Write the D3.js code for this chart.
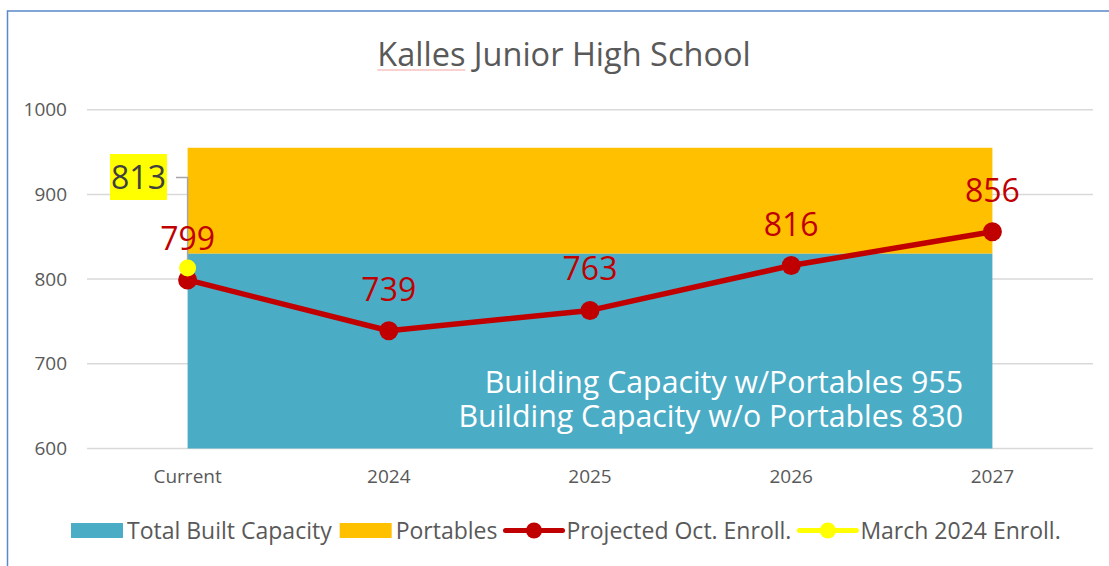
<!DOCTYPE html>
<html>
<head>
<meta charset="utf-8">
<script src="https://cdn.jsdelivr.net/npm/d3@7"></script>
<style>
  body { margin: 0; background: #fff; }
  svg { display: block; font-family: "Open Sans", Lato, sans-serif; }
</style>
</head>
<body>
<svg id="chart" width="1109" height="566"></svg>
<script>
'use strict';

// chart data
var categories = ['Current', '2024', '2025', '2026', '2027'];
var builtCapacity = [830, 830, 830, 830, 830];
var withPortables = [955, 955, 955, 955, 955];
var projected = [799, 739, 763, 816, 856];
var marchEnroll = [{ cat: 'Current', value: 813 }];
var yTicks = [600, 700, 800, 900, 1000];
var titleText = 'Kalles Junior High School';
var noteLines = ['Building Capacity w/Portables 955', 'Building Capacity w/o Portables 830'];
var legendItems = [
    { label: 'Total Built Capacity', type: 'rect', color: '#4BACC6' },
    { label: 'Portables', type: 'rect', color: '#FFC000' },
    { label: 'Projected Oct. Enroll.', type: 'line', color: '#C00000' },
    { label: 'March 2024 Enroll.', type: 'line', color: '#FFFF00' }
];

var svg = d3.select('#chart');
var gray = '#595959';

// outer frame (runs past the picture edge)
svg.append('rect')
    .attr('x', 7.5).attr('y', 11)
    .attr('width', 1200).attr('height', 700)
    .attr('fill', '#fff')
    .attr('stroke', '#5B88C8')
    .attr('stroke-width', 1.5);

var plot = { left: 87, right: 1093, top: 109.7, bottom: 448.5 };

var x = d3.scaleBand()
    .domain(categories)
    .range([plot.left, plot.right]);
var cx = function(c) { return x(c) + x.bandwidth() / 2; };

var y = d3.scaleLinear()
    .domain([600, 1000])
    .range([plot.bottom, plot.top]);

// gridlines
svg.append('g')
    .selectAll('line')
    .data(yTicks)
    .enter().append('line')
    .attr('x1', plot.left).attr('x2', plot.right)
    .attr('y1', function(d) { return y(d); })
    .attr('y2', function(d) { return y(d); })
    .attr('stroke', '#D9D9D9')
    .attr('stroke-width', 1.5);

// y axis labels
var yAxis = d3.axisLeft(y).tickValues(yTicks).tickFormat(d3.format('d'))
    .tickSize(0).tickPadding(0);
var yG = svg.append('g')
    .attr('transform', 'translate(67,0)')
    .call(yAxis);
yG.select('.domain').remove();
yG.selectAll('text')
    .attr('fill', gray)
    .style('font-size', '19px')
    .style('font-family', '"Open Sans", sans-serif');

// stacked areas
var areaBuilt = d3.area()
    .x(function(d, i) { return cx(categories[i]); })
    .y0(y(600))
    .y1(function(d) { return y(d); });
var areaPort = d3.area()
    .x(function(d, i) { return cx(categories[i]); })
    .y0(function(d, i) { return y(builtCapacity[i]); })
    .y1(function(d) { return y(d); });

svg.append('path').datum(withPortables)
    .attr('d', areaPort).attr('fill', '#FFC000');
svg.append('path').datum(builtCapacity)
    .attr('d', areaBuilt).attr('fill', '#4BACC6');

// x axis labels
var xAxis = d3.axisBottom(x).tickSize(0).tickPadding(0);
var xG = svg.append('g')
    .attr('transform', 'translate(0,' + 469.5 + ')')
    .call(xAxis);
xG.select('.domain').remove();
xG.selectAll('text')
    .attr('fill', gray)
    .style('font-size', '19px')
    .style('font-family', '"Open Sans", sans-serif');

// capacity note, one text per line
svg.append('g').selectAll('text')
    .data(noteLines)
    .enter().append('text')
    .attr('x', 963)
    .attr('y', function(d, i) { return 393 + i * 34; })
    .attr('text-anchor', 'end')
    .attr('fill', '#fff')
    .style('font-size', '30.3px')
    .text(function(d) { return d; });

// leader line for March label
var mx = cx(marchEnroll[0].cat);
var my = y(marchEnroll[0].value);
svg.append('path')
    .attr('d', 'M' + mx + ',' + my + 'V177.5H176')
    .attr('fill', 'none')
    .attr('stroke', '#A6A6A6')
    .attr('stroke-width', 1.5);

// projected line
var line = d3.line()
    .x(function(d, i) { return cx(categories[i]); })
    .y(function(d) { return y(d); });
svg.append('path').datum(projected)
    .attr('d', line)
    .attr('fill', 'none')
    .attr('stroke', '#C00000')
    .attr('stroke-width', 5.5)
    .attr('stroke-linejoin', 'round');
svg.append('g').selectAll('circle')
    .data(projected)
    .enter().append('circle')
    .attr('cx', function(d, i) { return cx(categories[i]); })
    .attr('cy', function(d) { return y(d); })
    .attr('r', 9.5)
    .attr('fill', '#C00000');

// projected labels
svg.append('g').selectAll('text')
    .data(projected)
    .enter().append('text')
    .attr('x', function(d, i) { return cx(categories[i]); })
    .attr('y', function(d) { return y(d) - 30; })
    .attr('text-anchor', 'middle')
    .attr('fill', '#C00000')
    .style('font-size', '32px')
    .text(function(d) { return d; });

// March point
svg.append('circle')
    .attr('cx', mx).attr('cy', my)
    .attr('r', 8.5)
    .attr('fill', '#FFFF00');

// March label with yellow box
svg.append('rect')
    .attr('x', 110).attr('y', 154)
    .attr('width', 57).attr('height', 46)
    .attr('fill', '#FFFF00');
svg.append('text')
    .attr('x', 138.5).attr('y', 189)
    .attr('text-anchor', 'middle')
    .attr('fill', '#404040')
    .style('font-size', '32px')
    .text(marchEnroll[0].value);

// title
var title = svg.append('text')
    .attr('x', 564).attr('y', 66)
    .attr('text-anchor', 'middle')
    .attr('fill', gray)
    .style('font-size', '32.5px')
    .text(titleText);

// spell-check squiggle under the first word of the title
var tNode = title.node();
var firstLen = tNode.getSubStringLength(0, titleText.indexOf(' '));
var tStart = tNode.getStartPositionOfChar(0).x;
svg.append('line')
    .attr('x1', tStart).attr('x2', tStart + firstLen)
    .attr('y1', 70).attr('y2', 70)
    .attr('stroke', '#F4A3A3')
    .attr('stroke-width', 1);

// legend
var lx = 71;
var ly = 530.5;
var leg = svg.append('g');
legendItems.forEach(function(item) {
    if (item.type === 'rect') {
        leg.append('rect')
            .attr('x', lx).attr('y', ly - 7.5)
            .attr('width', 52).attr('height', 15)
            .attr('fill', item.color);
        lx += 56;
    } else {
        leg.append('line')
            .attr('x1', lx).attr('x2', lx + 57)
            .attr('y1', ly).attr('y2', ly)
            .attr('stroke', item.color)
            .attr('stroke-width', 5)
            .attr('stroke-linecap', 'round');
        leg.append('circle')
            .attr('cx', lx + 28.5).attr('cy', ly)
            .attr('r', 8)
            .attr('fill', item.color);
        lx += 61;
    }
    var t = leg.append('text')
        .attr('x', lx).attr('y', ly + 8)
        .attr('fill', gray)
        .style('font-size', '23px')
        .text(item.label);
    lx += t.node().getComputedTextLength() + 8;
});
</script>
</body>
</html>
